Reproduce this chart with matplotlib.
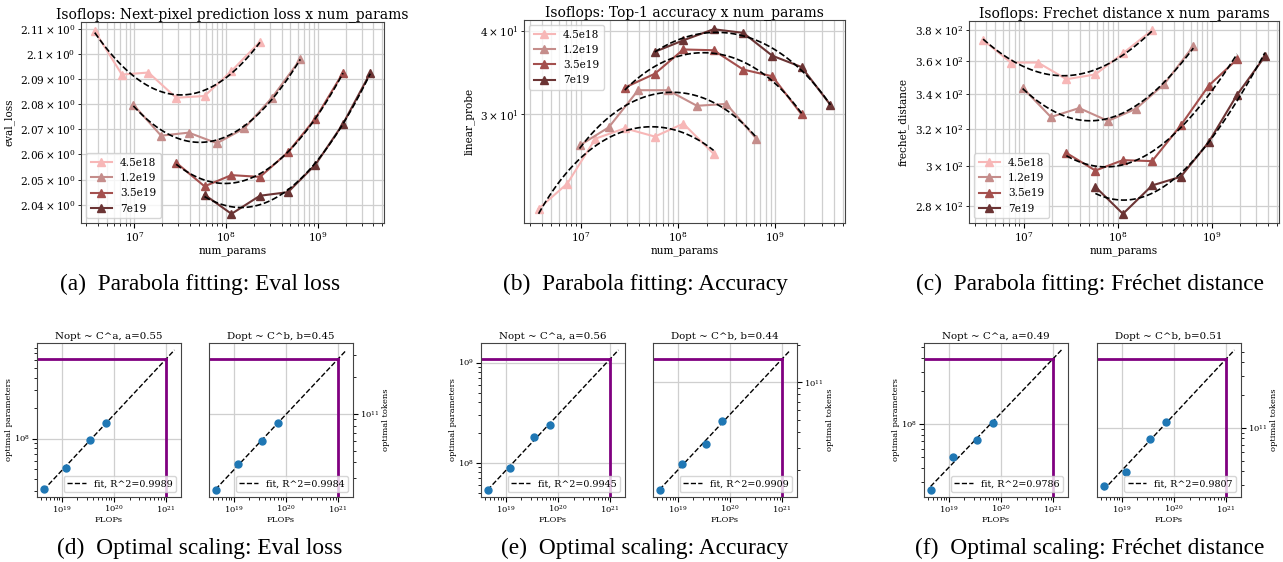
import numpy as np
import matplotlib as mpl
mpl.use("Agg")
import matplotlib.pyplot as plt

mpl.rcParams['font.family'] = 'DejaVu Serif'
mpl.rcParams['mathtext.fontset'] = 'dejavuserif'
mpl.rcParams['axes.edgecolor'] = '#444444'
mpl.rcParams['grid.color'] = '#cfcfcf'
mpl.rcParams['grid.linewidth'] = 0.9

# ---- data ----
budgets = ['4.5e18', '1.2e19', '3.5e19', '7e19']
colors = ['#f7b7b7', '#c58d8b', '#a4504e', '#6b3434']

np_45 = [3.7e6, 7.3e6, 1.42e7, 2.85e7, 5.8e7, 1.14e8, 2.33e8]
np_12 = [9.75e6, 1.95e7, 3.9e7, 7.9e7, 1.57e8, 3.15e8, 6.4e8]
np_35 = [2.85e7, 5.8e7, 1.14e8, 2.33e8, 4.7e8, 9.35e8, 1.87e9]
np_70 = [5.8e7, 1.14e8, 2.33e8, 4.7e8, 9.35e8, 1.87e9, 3.7e9]

loss_45 = [2.1093, 2.0918, 2.0926, 2.0825, 2.0832, 2.0932, 2.1050]
loss_12 = [2.0797, 2.0674, 2.0686, 2.0644, 2.0703, 2.0825, 2.0979]
loss_35 = [2.0567, 2.0474, 2.0518, 2.0511, 2.0608, 2.0742, 2.0925]
loss_70 = [2.0441, 2.0366, 2.0437, 2.0451, 2.0559, 2.0721, 2.0924]

acc_45 = [21.7, 23.65, 27.6, 28.6, 27.8, 29.06, 26.2]
acc_12 = [26.96, 28.7, 32.6, 32.6, 30.9, 31.1, 27.6]
acc_35 = [32.9, 34.5, 37.5, 37.4, 35.0, 34.2, 30.0]
acc_70 = [37.2, 38.7, 40.2, 39.7, 36.7, 35.3, 31.0]

fd_45 = [373.4, 359.1, 359.1, 348.9, 351.8, 364.9, 379.8]
fd_12 = [343.8, 326.8, 331.9, 324.6, 331.5, 346.1, 369.5]
fd_35 = [307.1, 297.9, 303.3, 302.8, 322.1, 345.1, 361.1]
fd_70 = [289.6, 276.4, 290.3, 294.7, 313.0, 339.6, 363.0]

flops = [4.5e18, 1.2e19, 3.5e19, 7e19]
nopt_loss = [3.14e7, 5.13e7, 9.77e7, 1.41e8]
dopt_loss = [2.38e10, 3.86e10, 6.0e10, 8.4e10]
nopt_acc = [5.39e7, 8.84e7, 1.79e8, 2.38e8]
dopt_acc = [1.38e10, 2.24e10, 3.23e10, 4.89e10]
nopt_fd = [2.52e7, 4.99e7, 7.24e7, 1.03e8]
dopt_fd = [2.9e10, 3.9e10, 7.95e10, 1.12e11]

W, H = 1283, 562
fig = plt.figure(figsize=(W / 100, H / 100), dpi=100)


def box(l, t, r, b):
    return fig.add_axes([l / W, 1 - b / H, (r - l) / W, (b - t) / H])


def isoflops(ax, xs, ys, title, ylabel, loc):
    for x, y, c, lab in zip(xs, ys, colors, budgets):
        ax.plot(x, y, '-^', color=c, lw=1.5, ms=6, label=lab)
    for x, y in zip(xs, ys):
        lx = np.log10(x)
        coef = np.polyfit(lx, y, 2)
        xx = np.linspace(lx.min(), lx.max(), 100)
        ax.plot(10 ** xx, np.polyval(coef, xx), '--', color='black', lw=1.2)
    ax.set_xscale('log')
    ax.set_yscale('log')
    ax.grid(True, which='both')
    ax.set_axisbelow(True)
    ax.set_title(title, fontsize=10.0, pad=3)
    ax.set_xlabel('num_params', fontsize=7.6, labelpad=1)
    ax.set_ylabel(ylabel, fontsize=7.6)
    ax.tick_params(which='both', labelsize=7.6, pad=2)
    ax.legend(loc=loc, fontsize=7.6)


xs = [np.array(np_45), np.array(np_12), np.array(np_35), np.array(np_70)]
isoflops(box(81, 22, 384, 223), xs, [loss_45, loss_12, loss_35, loss_70],
         'Isoflops: Next-pixel prediction loss x num_params', 'eval_loss', 'lower left')
isoflops(box(524, 20, 845, 223), xs, [acc_45, acc_12, acc_35, acc_70],
         'Isoflops: Top-1 accuracy x num_params', 'linear_probe', 'upper left')
isoflops(box(969, 21, 1279, 223), xs, [fd_45, fd_12, fd_35, fd_70],
         'Isoflops: Frechet distance x num_params', 'frechet_distance', 'lower left')


def scaling(ax, y, title, ylabel, r2, right=False):
    lc = np.log10(flops)
    ly = np.log10(y)
    coef = np.polyfit(lc, ly, 1)
    xx = np.linspace(lc.min(), np.log10(1.45e21), 50)
    ax.scatter(flops, y, s=25, color='#1f77b4', zorder=3)
    ax.plot(10 ** xx, 10 ** np.polyval(coef, xx), '--', color='black', lw=1.0,
            label='fit, R^2=%s' % r2)
    ax.set_xscale('log')
    ax.set_yscale('log')
    xl = ax.get_xlim()
    yl = ax.get_ylim()
    pred = 10 ** np.polyval(coef, 21.0)
    ax.plot([xl[0], 1e21], [pred, pred], color='purple', lw=2)
    ax.plot([1e21, 1e21], [yl[0], pred], color='purple', lw=2)
    ax.set_xlim(xl)
    ax.set_ylim(yl)
    ax.grid(True, which='major')
    ax.set_axisbelow(True)
    ax.set_title(title, fontsize=7.4, pad=3)
    ax.set_xlabel('FLOPs', fontsize=6, labelpad=0.5)
    ax.tick_params(which='both', labelsize=6, pad=1.5)
    if right:
        ax.yaxis.tick_right()
        ax.yaxis.set_label_position('right')
        ax.set_ylabel(ylabel, fontsize=6, labelpad=2)
    else:
        ax.set_ylabel(ylabel, fontsize=6, labelpad=0.5)
    ax.legend(loc='lower right', fontsize=6.8)


rows = [
    (37, 209, nopt_loss, dopt_loss, '0.55', '0.45', '0.9989', '0.9984'),
    (481, 653, nopt_acc, dopt_acc, '0.56', '0.44', '0.9945', '0.9909'),
    (924, 1097, nopt_fd, dopt_fd, '0.49', '0.51', '0.9786', '0.9807'),
]
for l1, l2, n, d, a, b, r1, r2 in rows:
    scaling(box(l1, 343, l1 + 144, 497), n, 'Nopt ~ C^a, a=' + a, 'optimal parameters', r1)
    scaling(box(l2, 343, l2 + 144, 497), d, 'Dopt ~ C^b, b=' + b, 'optimal tokens', r2, right=True)

captions_top = ['(a)  Parabola fitting: Eval loss', '(b)  Parabola fitting: Accuracy',
                '(c)  Parabola fitting: Fréchet distance']
captions_bot = ['(d)  Optimal scaling: Eval loss', '(e)  Optimal scaling: Accuracy',
                '(f)  Optimal scaling: Fréchet distance']
centers = [200, 645, 1090]
for cx, t1, t2 in zip(centers, captions_top, captions_bot):
    fig.text(cx / W, 1 - 284 / H, t1, ha='center', va='center',
             family='Liberation Serif', fontsize=16.8)
    fig.text(cx / W, 1 - 548 / H, t2, ha='center', va='center',
             family='Liberation Serif', fontsize=16.8)

fig.savefig('out.png', dpi=100)
